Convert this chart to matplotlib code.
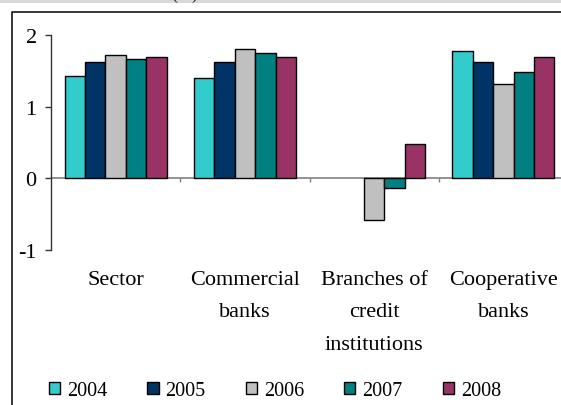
import matplotlib
matplotlib.use("Agg")
import matplotlib.pyplot as plt
import matplotlib.transforms as mtransforms
from matplotlib.lines import Line2D
from matplotlib.patches import Rectangle, Patch
import numpy as np

plt.rcParams['font.family'] = ['Liberation Serif', 'DejaVu Serif']

categories = ["Sector", "Commercial\nbanks", "Branches of\ncredit\ninstitutions", "Cooperative\nbanks"]
years = ["2004", "2005", "2006", "2007", "2008"]
values = {
    "2004": [1.43, 1.40, 0.0, 1.78],
    "2005": [1.62, 1.62, 0.0, 1.62],
    "2006": [1.72, 1.80, -0.58, 1.31],
    "2007": [1.66, 1.75, -0.14, 1.48],
    "2008": [1.69, 1.69, 0.48, 1.69],
}
colors = ["#33CCCC", "#003366", "#C0C0C0", "#008080", "#993366"]
yticks = [-1, 0, 1, 2]

W, H = 561, 406
fig = plt.figure(figsize=(W / 100, H / 100), dpi=100)

def fx(px):
    return px / W

def fy(py):
    return 1 - py / H

# top grey band and clipped heading
fig.patches.append(Rectangle((0, fy(4)), 1, 4 / H, transform=fig.transFigure,
                             facecolor="#D9D9D9", edgecolor="none", zorder=0))
fig.text(fx(185), fy(3), "(%)", ha="center", va="bottom", fontsize=13, color="#222222")

# outer frame (left and top edges visible)
fig.add_artist(Line2D([fx(12), fx(12), fx(600)], [fy(420), fy(13), fy(13)],
                      transform=fig.transFigure, color="black", lw=1.1))

ax_left, ax_right = 51, 568
ax_top, ax_bot = 36, 250.7
ax = fig.add_axes([fx(ax_left), fy(ax_bot), (ax_right - ax_left) / W, (ax_bot - ax_top) / H])
ax.set_xlim(-0.5, 3.5)
ax.set_ylim(-1, 2)
ax.patch.set_alpha(0)

x = np.arange(len(categories))
bw = 0.158
for i, (yr, c) in enumerate(zip(years, colors)):
    bars = ax.bar(x + (i - 2) * bw, values[yr], width=bw, color=c,
                  edgecolor="black", linewidth=1.0, zorder=3)
    for b in bars:
        if b.get_height() == 0:
            b.set_visible(False)

for s in ["top", "right"]:
    ax.spines[s].set_visible(False)
ax.spines["left"].set_color("#333333")
ax.spines["left"].set_linewidth(1.0)
ax.spines["bottom"].set_position(("data", 0))
ax.spines["bottom"].set_color("#808080")
ax.spines["bottom"].set_linewidth(1.2)
ax.spines["bottom"].set_zorder(2)

ax.set_yticks(yticks)
ax.set_yticklabels([str(v) for v in yticks])
ax.tick_params(axis="y", direction="out", length=4.3, width=1.0, color="#333333",
               pad=6, labelsize=16)
ax.set_xticks([0.5, 1.5, 2.5])
ax.set_xticklabels([])
ax.tick_params(axis="x", direction="out", length=3, width=1.0, color="#808080")

tr = mtransforms.blended_transform_factory(ax.transData, fig.transFigure)
for xi, lab in zip(x, categories):
    ax.text(xi, fy(271), lab, transform=tr,
            ha="center", va="top", fontsize=16, linespacing=1.95, color="black")

handles = [Patch(facecolor=c, edgecolor="black", linewidth=1.0) for c in colors]
leg = fig.legend(handles, years, loc="center", bbox_to_anchor=(fx(275), fy(392)),
                 ncol=5, frameon=False, fontsize=14.5, handlelength=0.55, handleheight=0.55,
                 handletextpad=0.35, columnspacing=1.99, borderaxespad=0, borderpad=0)

fig.savefig("out.png", dpi=100)
